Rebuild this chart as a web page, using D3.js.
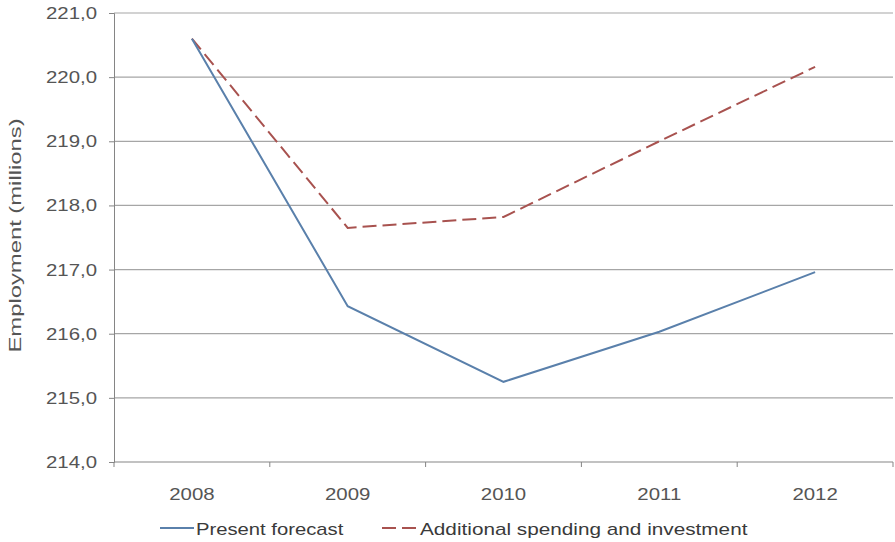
<!DOCTYPE html>
<html>
<head>
<meta charset="utf-8">
<script src="https://cdn.jsdelivr.net/npm/d3@7"></script>
<style>
  html, body { margin: 0; padding: 0; background: #fff; }
  svg { display: block; font-family: "Liberation Sans", Arial, sans-serif; }
</style>
</head>
<body>
<svg id="chart" width="895" height="542"></svg>
<script>
// Employment forecast by year
const years = ["2008", "2009", "2010", "2011", "2012"];
const presentForecast = [220.6, 216.43, 215.25, 216.03, 216.96];
const additionalSpending = [220.6, 217.65, 217.82, 219.0, 220.16];
const yTicks = [214, 215, 216, 217, 218, 219, 220, 221];

const svg = d3.select("#chart");
const margin = { left: 114, right: 2, top: 13, bottom: 80 };
const W = 895, H = 542;
const FONT = "17px";
const textColor = "#555";
const blue = "#5a80ab", red = "#a8524f";

const x = d3.scaleBand().domain(years).range([margin.left, W - margin.right]);
const y = d3.scaleLinear().domain([214, 221]).range([H - margin.bottom, margin.top]);

const fmt = d => d3.format(".1f")(d).replace(".", ",");

// widen glyphs a little, the labels are set in a broad face
function widen(sel, k) {
  sel.each(function () {
    const len = this.getComputedTextLength();
    d3.select(this).attr("textLength", len * k).attr("lengthAdjust", "spacingAndGlyphs");
  });
}

// horizontal gridlines
svg.append("g")
  .selectAll("line")
  .data(yTicks.filter(d => d !== 214))
  .join("line")
  .attr("x1", margin.left).attr("x2", W - margin.right)
  .attr("y1", d => y(d)).attr("y2", d => y(d))
  .attr("stroke", "#a6a6a6").attr("stroke-width", 1.2);

// y axis
const yAxis = svg.append("g")
  .attr("transform", `translate(${margin.left},0)`)
  .call(d3.axisLeft(y).tickValues(yTicks).tickFormat(fmt).tickSize(5).tickPadding(12));
yAxis.select(".domain").attr("stroke", "#858585");
yAxis.selectAll(".tick line").attr("stroke", "#858585");
yAxis.selectAll("text").attr("fill", textColor).style("font-size", FONT).attr("font-family", null);
widen(yAxis.selectAll("text"), 1.2);

// x axis with ticks at category boundaries
const xAxisG = svg.append("g")
  .attr("transform", `translate(0,${y(214)})`);
xAxisG.append("line")
  .attr("x1", margin.left).attr("x2", W - margin.right)
  .attr("stroke", "#858585").attr("stroke-width", 1.2);
const bounds = years.map(d => x(d)).concat([x(years[years.length - 1]) + x.bandwidth()]);
xAxisG.selectAll(".bt").data(bounds).join("line")
  .attr("class", "bt")
  .attr("x1", d => d).attr("x2", d => d)
  .attr("y1", 0).attr("y2", 5)
  .attr("stroke", "#858585");
const xl = xAxisG.selectAll("text").data(years).join("text")
  .attr("x", d => x(d) + x.bandwidth() / 2)
  .attr("y", 38)
  .attr("text-anchor", "middle")
  .attr("fill", textColor)
  .style("font-size", FONT)
  .text(d => d);
widen(xl, 1.2);

// axis title
const title = svg.append("text")
  .attr("transform", `translate(21,${(y(214) + y(221)) / 2 - 2}) rotate(-90)`)
  .attr("text-anchor", "middle")
  .attr("fill", textColor)
  .style("font-size", FONT)
  .text("Employment (millions)");
widen(title, 1.4);

// series lines
const line = d3.line()
  .x((d, i) => x(years[i]) + x.bandwidth() / 2)
  .y(d => y(d));

svg.append("path")
  .datum(additionalSpending)
  .attr("d", line)
  .attr("fill", "none")
  .attr("stroke", red)
  .attr("stroke-width", 2)
  .attr("stroke-dasharray", "14,6");

svg.append("path")
  .datum(presentForecast)
  .attr("d", line)
  .attr("fill", "none")
  .attr("stroke", blue)
  .attr("stroke-width", 2);

// legend
const lg = svg.append("g").attr("transform", "translate(0,528)");
lg.append("line").attr("x1", 160).attr("x2", 194).attr("y1", 0).attr("y2", 0)
  .attr("stroke", blue).attr("stroke-width", 2);
const t1 = lg.append("text").attr("x", 196).attr("y", 7).attr("fill", "#3a3a3a")
  .style("font-size", FONT).text("Present forecast");
lg.append("line").attr("x1", 382).attr("x2", 418).attr("y1", 0).attr("y2", 0)
  .attr("stroke", red).attr("stroke-width", 2).attr("stroke-dasharray", "14,6");
const t2 = lg.append("text").attr("x", 420).attr("y", 7).attr("fill", "#3a3a3a")
  .style("font-size", FONT).text("Additional spending and investment");
widen(t1, 1.19);
widen(t2, 1.22);
</script>
</body>
</html>
